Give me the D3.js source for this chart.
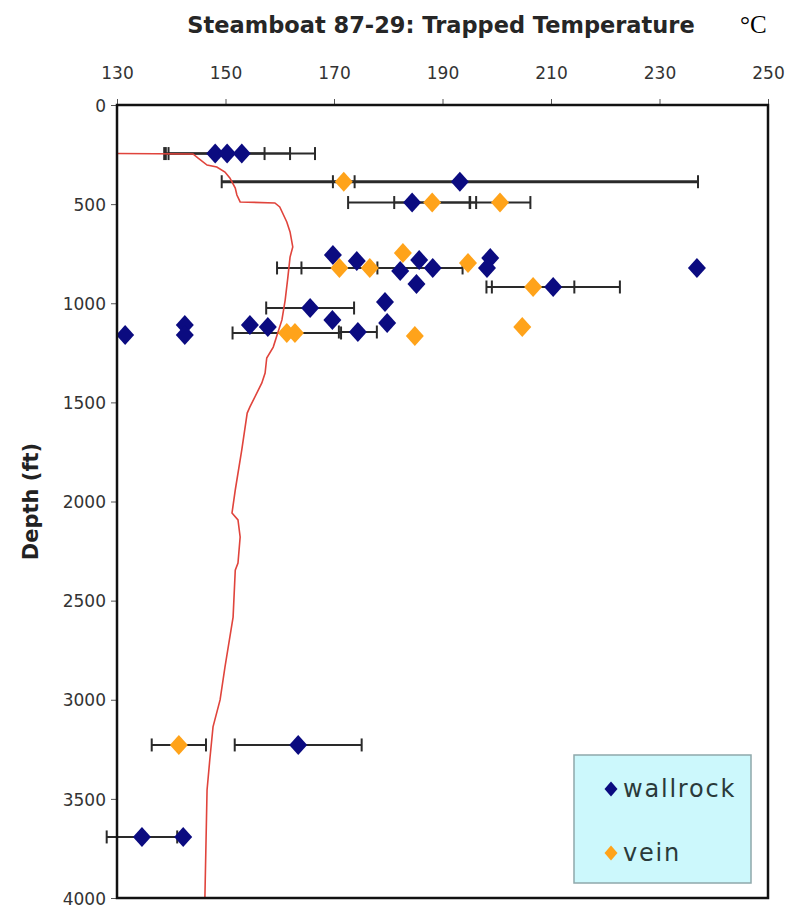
<!DOCTYPE html>
<html>
<head>
<meta charset="utf-8">
<script src="https://cdn.jsdelivr.net/npm/d3@7"></script>
<style>
  html, body { margin: 0; padding: 0; background: #fff; }
  svg { display: block; }
</style>
</head>
<body>
<svg id="chart" width="791" height="909"></svg>
<script>
// ---------- data ----------
const tempTicks = [130, 150, 170, 190, 210, 230, 250];
const depthTicks = [0, 500, 1000, 1500, 2000, 2500, 3000, 3500, 4000];

const wallrockTemp  = [148.1, 150.3, 153.0, 193.2, 184.4, 169.8, 174.2, 185.7, 182.2, 188.2, 185.2, 198.8, 198.2, 236.9, 210.4, 165.6, 179.4, 169.7, 179.8, 131.5, 142.5, 142.5, 154.5, 157.8, 174.4, 163.4, 134.6, 142.2];
const wallrockDepth = [245, 245, 245, 387, 492, 757, 787, 782, 837, 822, 903, 772, 822, 822, 918, 1024, 994, 1084, 1100, 1160, 1110, 1160, 1110, 1120, 1145, 3228, 3692, 3692];
const wallrockErr   = [9.1, 11.6, 13.5, 43.9, 11.8, 0, 0, 0, 0, 0, 0, 0, 0, 0, 12.3, 8.1, 0, 0, 0, 0, 0, 0, 0, 0, 3.5, 11.7, 6.5, 0];

const veinTemp  = [171.8, 188.1, 200.6, 171.0, 176.6, 182.7, 194.7, 206.7, 161.3, 162.8, 184.9, 204.7, 141.4];
const veinDepth = [387, 492, 492, 822, 822, 747, 797, 918, 1150, 1150, 1165, 1120, 3228];
const veinErr   = [2.0, 7.0, 5.6, 7.0, 17.1, 0, 0, 7.6, 10.0, 0, 0, 0, 5.0];

const profileTemp  = [130, 144.0, 144.9, 146.6, 148.4, 149.9, 150.8, 151.8, 152.1, 152.7, 159.1, 160.0, 161.3, 161.9, 162.4, 161.9, 161.5, 161.0, 160.4, 158.8, 157.6, 157.3, 156.7, 154.5, 154.0, 153.0, 151.8, 151.2, 152.3, 152.7, 152.3, 151.8, 151.4, 149.9, 149.0, 147.7, 147.1, 146.6, 146.2];
const profileDepth = [245, 247, 267, 303, 313, 338, 368, 419, 454, 489, 494, 514, 590, 640, 716, 767, 868, 984, 1084, 1221, 1276, 1352, 1402, 1523, 1554, 1740, 1942, 2058, 2093, 2179, 2310, 2346, 2583, 2835, 3001, 3137, 3304, 3455, 4000];

const seriesNames = ["wallrock", "vein"];
const seriesColors = ["#0b0b80", "#ffa31a"];

// ---------- layout ----------
const svg = d3.select("#chart");
const plot = { left: 117, right: 768, top: 105, bottom: 898 };

const x = d3.scaleLinear().domain([130, 250]).range([plot.left, plot.right]);
const y = d3.scaleLinear().domain([0, 4000]).range([plot.top, plot.bottom]);

const labelFont = "'DejaVu Sans', Verdana, sans-serif";

// title
svg.append("text")
  .attr("x", 441).attr("y", 33)
  .attr("text-anchor", "middle")
  .style("font-family", labelFont)
  .style("font-weight", "bold")
  .style("font-size", "22.5px")
  .attr("fill", "#262626")
  .text("Steamboat 87-29: Trapped Temperature");

svg.append("text")
  .attr("x", 740).attr("y", 33)
  .style("font-family", "'Liberation Serif', 'Times New Roman', serif")
  .style("font-size", "25px")
  .attr("fill", "#000")
  .text("°C");

// axes
const topAxis = d3.axisTop(x).tickValues(tempTicks).tickSize(6).tickPadding(20).tickFormat(d3.format("d"));
const leftAxis = d3.axisLeft(y).tickValues(depthTicks).tickSize(6).tickPadding(5).tickFormat(d3.format("d"));

const gTop = svg.append("g").attr("transform", `translate(0,${plot.top})`).call(topAxis);
const gLeft = svg.append("g").attr("transform", `translate(${plot.left},0)`).call(leftAxis);

[gTop, gLeft].forEach(g => {
  g.select(".domain").remove();
  g.selectAll(".tick line").attr("stroke", "#555").attr("stroke-width", 1);
  g.selectAll(".tick text")
    .style("font-family", labelFont)
    .style("font-size", "17px")
    .attr("fill", "#333");
});
gLeft.selectAll(".tick text").attr("dy", "0.36em");

// y label
svg.append("text")
  .attr("transform", `translate(38,${(plot.top + plot.bottom) / 2}) rotate(-90)`)
  .attr("text-anchor", "middle")
  .style("font-family", labelFont)
  .style("font-weight", "bold")
  .style("font-size", "21px")
  .attr("fill", "#222")
  .text("Depth (ft)");

// error bars
function errorData(temps, depths, errs) {
  return temps.map((t, i) => ({ t, d: depths[i], e: errs[i] })).filter(p => p.e > 0);
}
const errAll = errorData(wallrockTemp, wallrockDepth, wallrockErr)
  .concat(errorData(veinTemp, veinDepth, veinErr));

const gErr = svg.append("g").attr("stroke", "#2a2a2a").attr("stroke-width", 2).attr("fill", "none");
errAll.forEach(p => {
  const yy = y(p.d), x0 = x(p.t - p.e), x1 = x(p.t + p.e);
  gErr.append("line").attr("x1", x0).attr("x2", x1).attr("y1", yy).attr("y2", yy)
    .attr("stroke-width", p.e > 30 ? 3 : 2);
  gErr.append("line").attr("x1", x0).attr("x2", x0).attr("y1", yy - 6.5).attr("y2", yy + 6.5);
  gErr.append("line").attr("x1", x1).attr("x2", x1).attr("y1", yy - 6.5).attr("y2", yy + 6.5);
});

// temperature profile
const profile = profileTemp.map((t, i) => [t, profileDepth[i]]);
svg.append("path")
  .datum(profile)
  .attr("fill", "none")
  .attr("stroke", "#e0443c")
  .attr("stroke-width", 1.6)
  .attr("d", d3.line().x(p => x(p[0])).y(p => y(p[1])));

// markers
const diamond = (w, h) => `M0,${-h}L${w},0L0,${h}L${-w},0Z`;
function drawSeries(temps, depths, color) {
  svg.append("g").selectAll("path")
    .data(temps.map((t, i) => ({ t, d: depths[i] })))
    .join("path")
    .attr("transform", p => `translate(${x(p.t)},${y(p.d)})`)
    .attr("d", diamond(9, 10))
    .attr("fill", color);
}
drawSeries(wallrockTemp, wallrockDepth, seriesColors[0]);
drawSeries(veinTemp, veinDepth, seriesColors[1]);

// frame
svg.append("rect")
  .attr("x", plot.left).attr("y", plot.top)
  .attr("width", plot.right - plot.left).attr("height", plot.bottom - plot.top)
  .attr("fill", "none").attr("stroke", "#111").attr("stroke-width", 2.5);

// legend
const lg = svg.append("g").attr("transform", "translate(574,755)");
lg.append("rect").attr("width", 177).attr("height", 128)
  .attr("fill", "#ccf8fc").attr("stroke", "#8fa8ab").attr("stroke-width", 1.5);
seriesNames.forEach((name, i) => {
  const yy = 34 + i * 64;
  lg.append("path").attr("transform", `translate(37,${yy})`)
    .attr("d", diamond(6.5, 7.5)).attr("fill", seriesColors[i]);
  lg.append("text").attr("x", 49).attr("y", yy + 8)
    .style("font-family", labelFont)
    .style("font-size", "24px")
    .style("letter-spacing", "1.8px")
    .attr("fill", "#2a3a3a")
    .text(name);
});
</script>
</body>
</html>
